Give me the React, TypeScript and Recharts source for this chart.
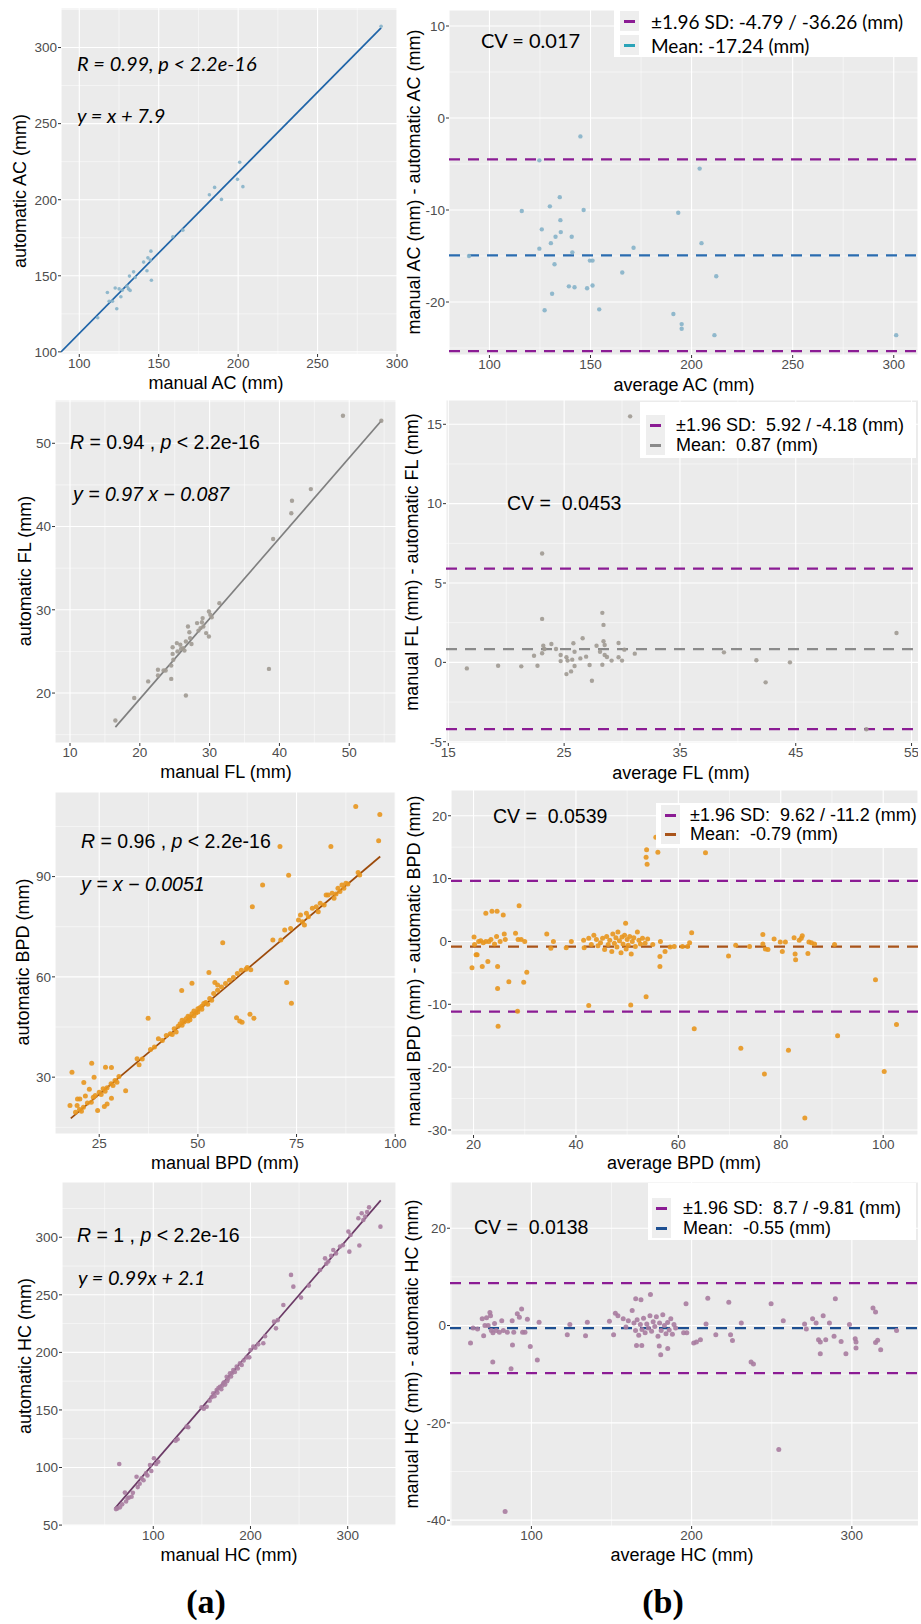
import React from "react";
import {
  ComposedChart,
  Scatter,
  Line,
  XAxis,
  YAxis,
  CartesianGrid,
  ReferenceLine,
} from "recharts";

const ARIAL = '"Liberation Sans", Arial, sans-serif';
const CALI = 'Lato, "Open Sans", sans-serif';
const PANEL_BG = "#EBEBEB";
const LIMIT = "#8b1c94";

type Pair = [number, number];

// ---------- AC ----------
const acScatter: Pair[] = [
  [111.6, 122.4], [117.7, 139], [118.8, 133.3], [120.9, 133.3], [122.6, 142], [123.6, 128.3],
  [125.1, 141.4], [126.2, 136.2], [127.2, 140.6], [130, 143.2], [131, 141.4], [131.6, 149.8],
  [132, 140.4], [134.2, 152.6], [135.2, 148.9], [140.5, 159], [142.6, 153.3], [143.2, 161.8],
  [144.7, 160.3], [145.1, 166.2], [145.4, 147.1], [158.9, 175.7], [165.2, 180], [181.9, 203.3],
  [185.2, 208.1], [189.5, 200.2], [199.6, 213.4], [201, 224.6], [203, 208.6], [290, 314],
];
const acFit: Pair[] = [[88.5, 100], [290, 313]];
const acBA: Pair[] = [
  [89.9, -15], [116, -10.1], [124.7, -4.6], [124.7, -14.2], [125.9, -12.1], [127.3, -20.9],
  [129.9, -9.6], [130.4, -13.6], [131, -19.1], [132.2, -15.9], [132.7, -12.9], [134.8, -8.6],
  [135.1, -11.1], [135.3, -12.4], [139.3, -18.3], [140.7, -12.9], [141, -14.6], [142.1, -18.4],
  [145, -2], [146.6, -10], [148.3, -18.5], [149.7, -15.5], [151, -15.5], [151, -18.2],
  [154.3, -20.8], [165.7, -16.8], [171.3, -14.1], [191, -21.3], [193.4, -10.3], [195.1, -22.4],
  [195.1, -22.9], [204, -5.5], [204.9, -13.6], [211.3, -23.6], [212.2, -17.2], [301.2, -23.6],
];
const acLimits = [-4.49, -25.33];
const acMean = -14.93;

// ---------- FL ----------
const flScatter: Pair[] = [
  [16.5, 16.7], [19.2, 19.4], [21.2, 21.4], [22.6, 22.8], [22.6, 22.1], [23.4, 22.7], [23.7, 22.7],
  [24.5, 23.3], [24.5, 21.7], [24.7, 24.7], [24.7, 25.5], [24.8, 24], [25.3, 26], [25.4, 25],
  [25.8, 25.8], [25.9, 25.3], [26.2, 25.4], [26.4, 25.1], [26.6, 19.7], [26.6, 26.2], [26.9, 28],
  [27.1, 27.3], [27.2, 26.6], [27.4, 25.9], [28.2, 28.4], [28.4, 27.5], [28.7, 27.8], [28.9, 28.5],
  [29, 29], [29.1, 28], [29.5, 27.2], [29.9, 26.8], [29.9, 29.8], [30.1, 29.4], [30.3, 29.1],
  [31.4, 30.8], [38.5, 22.9], [39.1, 38.5], [41.7, 41.6], [41.8, 43.1], [44.5, 44.5], [49.1, 53.3],
  [54.6, 52.7],
];
const flFit: Pair[] = [[16.5, 15.9], [54.6, 52.7]];
const flBA: Pair[] = [
  [16.6, -0.38], [19.3, -0.21], [21.3, -0.25], [22.4, 0.42], [22.7, -0.21], [23.1, 6.86],
  [23.1, 2.74], [23.1, 0.57], [23.2, 1.05], [23.3, 0.84], [23.9, 1.16], [24.3, 0.84], [24.7, 0.46],
  [24.7, 0.08], [25.2, 0.32], [25.2, -0.74], [25.3, 0.11], [25.6, -0.57], [25.7, 0.17], [25.8, 1.2],
  [25.9, 0.67], [25.9, -0.23], [26.4, 0.25], [26.6, 1.52], [26.9, 0.36], [27.2, -0.17],
  [27.4, -1.16], [27.8, 1.05], [28.1, 0.67], [28.3, -0.15], [28.3, 3.12], [28.4, 2.36], [28.4, 1.33],
  [28.5, 1.09], [28.5, 0.46], [28.7, 0.34], [29.1, 0.11], [29.7, 1.22], [29.7, 0.32], [30, 0.11],
  [30.2, 0.8], [31.1, 0.55], [38.8, 0.63], [41.6, 0.13], [42.4, -1.26], [44.5, 0], [51.1, -4.21],
  [53.7, 1.85], [30.7, 15.5],
];
const flLimits = [5.9, -4.2];
const flMean = 0.84;

// ---------- BPD ----------
const bpdScatter: Pair[] = [
  [90, 111], [70.8, 99], [83.7, 99], [73, 90.4], [66.4, 87.5], [63.8, 81], [56.3, 70.2], [72.5, 58.3],
  [73.7, 52.1], [45.9, 55.9], [48.5, 58.1], [37.4, 47.6], [59.8, 47.8], [60.6, 46.8], [61.2, 46.4],
  [63.2, 48.8], [64.2, 47.6], [63.4, 62.1], [62.2, 62.3], [52.8, 61.3], [54.3, 58.3], [55, 57.6],
  [17.6, 21.5], [18.1, 31.5], [19.5, 23.5], [20.1, 23.5], [19.4, 21.5], [21.1, 28.4], [21.5, 24.4],
  [22.5, 26.4], [23.1, 34.2], [23.7, 30], [24.6, 20], [26.3, 21.2], [26.6, 33], [27, 22],
  [28.1, 23.7], [28.1, 32.9], [31.7, 25.9], [34.6, 35.5], [35.1, 33.7], [35.9, 35.4], [96.1, 108.6],
  [95.8, 100.7], [90.6, 91.2],
  [19, 19.5], [20, 20.3], [20.5, 19.8], [21, 21], [22, 22.3], [23, 22.5], [23.5, 24], [24, 24.5],
  [25, 25.5], [25.5, 24.8], [26, 26.5], [26.5, 25.8], [27, 26.8], [28, 28], [28.5, 27.5], [29, 29],
  [29.5, 28.5], [30, 30.2],
  [38, 38.3], [39, 39], [40, 41.5], [41, 41], [42, 42.5], [43, 43], [43.5, 42.8], [44, 44.5],
  [44.5, 43.5], [45, 45.2], [45.5, 46], [46, 45.5], [46, 47], [46.5, 46.5], [47, 47.5], [47.5, 46.8],
  [47.5, 48.2], [48, 48], [48, 47.2], [48.5, 49], [49, 48.3], [49, 49.8], [49.5, 49.2], [50, 50.5],
  [50, 49.5], [50.5, 50.8], [51, 51.2], [51, 50.3], [51.5, 52], [52, 52.3], [52.5, 51.8], [53, 53.5],
  [53.5, 53], [54, 55], [55, 56], [56, 57], [57, 58], [58, 59], [59, 59.8], [60, 61], [61, 62],
  [62.5, 62.8],
  [69, 71], [71, 71], [72, 74], [73.5, 74.5], [75.5, 77], [76, 78.5], [76.5, 76.5], [77, 75.5],
  [77.5, 79], [78, 78], [79, 80.5], [80, 81], [80.5, 79.5], [81, 82], [82, 81.5], [82.5, 84.5],
  [83, 84.5], [84, 85], [84.5, 83.5], [85, 84.8], [85.5, 86.5], [86, 85.5], [86.5, 87.5], [87, 86.5],
  [87.5, 88], [88, 87.8], [91, 90.5],
];
const bpdFit: Pair[] = [[17.8, 17.7], [96.2, 96]];
const bpdBA: Pair[] = [
  [19.7, -4.2], [20.1, 0.7], [20.5, -2.1], [22.4, 4.5], [23.6, 4.8], [24.6, 4.8], [25.8, 4.2],
  [28.9, 5.7], [24.7, -4], [24.7, -7.5], [24.8, -13.5], [26.9, -6.4], [28.6, -11.1], [29.8, -6.5],
  [30.4, -4.9], [21.7, -4], [22.8, -3.2], [20.7, -2.1], [53.8, 14.6], [53.7, 13.4], [53.9, 12.3],
  [55.6, 16.6], [56, 14.2], [65.3, 14.1], [53.7, -8.8], [42.5, -10.2], [50.7, -10.1], [49.7, 2.9],
  [62.6, 1.4], [63.1, -13.9], [56.4, -2.4], [56.4, -4], [69.8, -2.3], [72.2, -17], [76.8, -21.1],
  [81.5, -17.3], [84.7, -28.1], [98.5, -6.1], [91.1, -15], [100.2, -20.7], [102.6, -13.2],
  [21, 0], [21.4, 0.1], [21.9, -0.2], [22.4, 0], [23, 0], [23.4, 0.3], [24.1, -0.4], [24.5, 0.8],
  [25.2, 0], [26, 1.2], [26.2, 0.3], [28.2, 1.3], [28.7, 0.3], [29.3, 0.3], [30, 0], [20.2, -0.5],
  [34.3, 1.2], [35.1, -1.1], [35.6, 0], [38.1, -1], [39.1, 0],
  [41.5, 0.2], [41.6, -1], [42.5, 0.5], [43, -0.5], [43.5, 1], [44, 0.3], [44.3, -0.7], [44.8, -0.2],
  [45.2, 0.5], [45.6, -1.3], [46, 0.8], [46.3, -0.5], [46.6, 0.2], [47, -1.6], [47.2, 1.2],
  [47.5, -0.3], [47.8, 0.6], [48, -0.9], [48.2, 1.5], [48.5, 0.1], [48.8, -1.8], [49, 0.7],
  [49.2, -0.4], [49.5, 1], [49.8, -1.2], [50, 0.3], [50.2, -0.6], [50.5, 0.8], [50.8, -2], [51, 0],
  [51.3, 0.6], [51.6, -0.8], [52, 1.5], [52.3, 0.2], [52.6, -0.4], [53, 0.5], [53.5, -0.3], [54, 0.4],
  [55, -0.5], [56.5, 0],
  [57.4, -1.6], [58.4, -0.9], [59.2, -0.8], [60.8, -0.8], [61.8, -0.8], [62.2, -0.2], [71.2, -0.6],
  [73.9, -0.8], [76.5, 1.1], [76.5, -0.4], [77, -1.2], [77.5, -1.3], [78.7, 0.4], [79.9, -0.1],
  [80.3, -1.6], [80.9, -0.1], [82.6, 0.6], [82.9, -2.9], [82.8, -2], [83.6, 0.2], [84, 0.5],
  [84.2, 0.9], [85.5, -0.1], [85.3, -1.9], [86, -0.2], [86.6, -0.4], [90.5, -0.5],
];
const bpdLimits = [9.65, -11.16];
const bpdMean = -0.81;

// ---------- HC ----------
const hcScatter: Pair[] = [
  [61.6, 63.9], [63, 64.5], [65.7, 65.4], [65, 103], [68, 68], [70.8, 78.2], [72, 70.5], [73.6, 73.2],
  [75, 74], [77.7, 74.6], [79, 78], [82.8, 92], [84, 83], [86, 86], [88, 90.6], [90, 89], [92.5, 94.9],
  [94, 93], [96.6, 102.1], [98, 97], [100.7, 108], [103, 103], [105.1, 105], [123, 123.3],
  [125, 124.5], [134.3, 135.5], [136, 135], [149.7, 152.3], [152, 151], [154.9, 152.8], [158, 158],
  [160, 161], [161.7, 164.4], [163, 162], [165.2, 167.3], [166, 165], [167, 169], [168.6, 170.2],
  [170, 168], [171, 171], [172, 173.1], [173, 174], [174, 172], [175.5, 178.9], [176, 175],
  [177, 177], [178.9, 181.8], [180, 179], [181, 182], [182.3, 184.7], [184, 183], [185.8, 187.6],
  [187, 186], [189.2, 190.5], [191, 189], [193, 193], [196, 195.5], [198.8, 195.7], [200, 202],
  [202.9, 205], [205, 204], [208, 207], [213.2, 207.9], [215, 214], [224.2, 226.7], [226.2, 220.9],
  [228, 228], [233.8, 241.2], [241.7, 267.3], [244.1, 257.1], [252, 247.6], [260, 258],
  [271.5, 271.6], [276.7, 281.7], [278, 277], [280, 279], [283, 284], [285.2, 289], [288, 286],
  [292.1, 291.9], [295, 293], [300.7, 304.9], [301.7, 287.5], [303, 302], [311, 316.5],
  [312, 292.8], [314.4, 320.9], [316.1, 315], [318, 318], [320, 322], [322, 326], [333.7, 309.2],
];
const hcFit: Pair[] = [[60.5, 64.5], [334, 332]];
const hcBA: Pair[] = [
  [62, -3.6], [63.6, -0.5], [66.4, -0.7], [69.3, 1.4], [70.2, -2.1], [71, 0], [72, 1.6], [73, 0],
  [75.9, -7.5], [74.1, 2.7], [74.5, 2], [75, -1], [76, -1.5], [77, 0.4], [78, -1], [80, -1.4],
  [81.5, 1], [82.5, -1], [83.6, -38.2], [85, -1.4], [87.3, -8.9], [88, 1], [88.2, -4], [89, -1.4],
  [91.2, 2.4], [92.5, 1.7], [93.9, 3.4], [94.5, -1.4], [96, -1.4], [97.5, 1.3], [99.3, -4.3],
  [103.7, -7.1], [104.8, 0.7], [122.4, -1.9], [124, 0.2], [133.8, -2.1], [134.9, 0.7], [148.7, 0.9],
  [151.3, -1.9], [152.4, 2.5], [154, 2], [157.3, 1.4], [159, -0.3], [160.5, 1], [162.9, 3.1],
  [165.1, 5.5], [168.4, 5.3], [165.6, -4.1], [168.9, -4.1], [164, 0.5], [165, -1], [166, 1.2],
  [167, -2], [168, 0.2], [169, -0.8], [170, 1.5], [171, -1.5], [172, 0.3], [173, -0.5], [174, 2],
  [174.3, 6.4], [175, -1.2], [176, 0.8], [177, -0.2], [178, 1.8], [179, -2.2], [180, 0.5],
  [181, -1], [182, 2.2], [183, 0], [184, -1.7], [185, 0.6], [186, -0.9], [187, 1.4], [188, -1.8],
  [189, 0.2], [190, -0.5], [179.8, -4.2], [180.7, -6], [185.1, -4.7], [196.5, 4.5], [195, -1.5],
  [197, -1.5], [201.3, -3.6], [203, -3.4], [205.5, -2.9], [209, 0.3], [210.1, 5.6], [215.1, -1.9],
  [223.2, 4.8], [224.3, -1.9], [225.5, -3.1], [231, 0.5], [237.1, -7.5], [238.6, -7.9],
  [249.6, 4.5], [254.4, -25.5], [257.2, 1], [270.5, 0.3], [271.6, -0.7], [275.5, 1.4],
  [277.7, 0.5], [279.2, -2.9], [280.3, -3.4], [280.3, -5.8], [282.1, 2], [283.7, -2.9], [286, 0.5],
  [289.7, 5.5], [288.9, -2.2], [293.3, -3.3], [296.3, -5.8], [298.5, 0.2], [302.1, -2.7],
  [302.6, -3.4], [302.6, -4.6], [313.2, 3.6], [314.8, 2.8], [314.8, -3.5], [316.1, -3], [318, -5],
  [327.9, -1],
];
const hcLimits = [8.7, -9.8];
const hcMean = -0.55;

const toPts = (arr: Pair[]) => arr.map(([x, y]) => ({ x, y }));

interface PanelProps {
  left: number;
  top: number;
  right: number;
  bottom: number;
  xDomain: [number, number];
  yDomain: [number, number];
  xTicks: number[];
  yTicks: number[];
  xMinor: number[];
  yMinor: number[];
  points: Pair[];
  color: string;
  r: number;
  fit?: Pair[];
  fitColor?: string;
  limits?: number[];
  mean?: number;
  meanColor?: string;
  padRight?: number;
}

const YW = 44;
const XH = 24;
const tickStyle = { fontSize: 13.5, fill: "#4d4d4d", fontFamily: ARIAL };

function Panel(p: PanelProps) {
  const pad = p.padRight ?? 0;
  const w = p.right - p.left + YW + pad;
  const h = p.bottom - p.top + XH;
  return (
    <div style={{ position: "absolute", left: p.left - YW, top: p.top }}>
      <ComposedChart width={w} height={h} margin={{ top: 0, right: pad, bottom: 0, left: 0 }}>
        <CartesianGrid
          fill={PANEL_BG}
          stroke="#fff"
          strokeWidth={0.5}
          horizontalValues={p.yMinor}
          verticalValues={p.xMinor}
        />
        <CartesianGrid stroke="#fff" strokeWidth={1.1} />
        <XAxis
          type="number"
          dataKey="x"
          domain={p.xDomain}
          ticks={p.xTicks}
          allowDataOverflow
          interval={0}
          tickSize={3}
          tickMargin={1}
          axisLine={false}
          tickLine={{ stroke: "#333" }}
          tick={tickStyle}
          height={XH}
        />
        <YAxis
          type="number"
          dataKey="y"
          domain={p.yDomain}
          ticks={p.yTicks}
          allowDataOverflow
          interval={0}
          tickSize={3}
          tickMargin={1}
          axisLine={false}
          tickLine={{ stroke: "#333" }}
          tick={tickStyle}
          width={YW}
        />
        <Scatter
          data={toPts(p.points)}
          fill={p.color}
          isAnimationActive={false}
          shape={(s: any) => <circle cx={s.cx} cy={s.cy} r={p.r} fill={p.color} fillOpacity={0.9} />}
        />
        {p.fit && (
          <Line
            data={toPts(p.fit)}
            dataKey="y"
            stroke={p.fitColor}
            strokeWidth={1.7}
            dot={false}
            activeDot={false}
            isAnimationActive={false}
          />
        )}
        {p.limits &&
          p.limits.map((v) => (
            <ReferenceLine key={v} y={v} stroke={LIMIT} strokeWidth={2.2} strokeDasharray="11 8" />
          ))}
        {p.mean !== undefined && (
          <ReferenceLine y={p.mean} stroke={p.meanColor} strokeWidth={2.2} strokeDasharray="11 8" />
        )}
      </ComposedChart>
    </div>
  );
}

interface TextProps {
  x: number;
  y: number;
  size: number;
  font: string;
  anchor?: "start" | "middle";
  rotate?: boolean;
  italic?: boolean;
  bold?: boolean;
  children: React.ReactNode;
}

function Txt({ x, y, size, font, anchor = "start", rotate, italic, bold, children }: TextProps) {
  let transform = anchor === "middle" ? "translate(-50%, -50%)" : "translate(0, -50%)";
  if (rotate) transform = "translate(-50%, -50%) rotate(-90deg)";
  return (
    <div
      style={{
        position: "absolute",
        left: x,
        top: y,
        transform,
        whiteSpace: "pre",
        fontSize: size,
        fontFamily: font,
        fontStyle: italic ? "italic" : "normal",
        fontWeight: bold ? 700 : 400,
        lineHeight: 1,
        color: "#000",
      }}
    >
      {children}
    </div>
  );
}

interface LegendProps {
  left: number;
  top: number;
  width: number;
  height: number;
  keyLeft: number;
  textLeft: number;
  rows: { y: number; color: string; label: string }[];
  font: string;
  size: number;
}

function BaLegend(l: LegendProps) {
  return (
    <>
      <div
        style={{
          position: "absolute",
          left: l.left,
          top: l.top,
          width: l.width,
          height: l.height,
          background: "#fff",
        }}
      />
      {l.rows.map((row) => (
        <React.Fragment key={row.label}>
          <div
            style={{
              position: "absolute",
              left: l.keyLeft,
              top: row.y - 10,
              width: 19,
              height: 20,
              background: "#EEEEEE",
            }}
          >
            <div
              style={{
                position: "absolute",
                left: 4,
                top: 8.5,
                width: 11,
                height: 3,
                background: row.color,
              }}
            />
          </div>
          <Txt x={l.textLeft} y={row.y} size={l.size} font={l.font}>
            {row.label}
          </Txt>
        </React.Fragment>
      ))}
    </>
  );
}

const SERIF = '"Liberation Serif", "Times New Roman", serif';

export default function App() {
  return (
    <div style={{ position: "relative", width: 921, height: 1624, background: "#fff", overflow: "hidden" }}>
      <style>{`body{margin:0;}`}</style>

      {/* Row 1: AC */}
      <Panel
        left={61} top={8} right={397} bottom={354} padRight={14}
        xDomain={[88.5, 300]} yDomain={[98.6, 326]}
        xTicks={[100, 150, 200, 250, 300]} yTicks={[100, 150, 200, 250, 300]}
        xMinor={[125, 175, 225, 275]} yMinor={[125, 175, 225, 275, 325]}
        points={acScatter} color="#86b3c9" r={1.8}
        fit={acFit} fitColor="#1f64a8"
      />
      <Panel
        left={449} top={10} right={918} bottom={355}
        xDomain={[80, 312]} yDomain={[-25.76, 11.74]}
        xTicks={[100, 150, 200, 250, 300]} yTicks={[-20, -10, 0, 10]}
        xMinor={[125, 175, 225, 275]} yMinor={[-25, -15, -5, 5]}
        points={acBA} color="#86b3c9" r={2.2}
        limits={acLimits} mean={acMean} meanColor="#2a6cb0"
      />

      {/* Row 2: FL */}
      <Panel
        left={55} top={400} right={396} bottom={743}
        xDomain={[7.85, 56.7]} yDomain={[14, 55.2]}
        xTicks={[10, 20, 30, 40, 50]} yTicks={[20, 30, 40, 50]}
        xMinor={[15, 25, 35, 45, 55]} yMinor={[15, 25, 35, 45, 55]}
        points={flScatter} color="#a09a92" r={2.2}
        fit={flFit} fitColor="#7f7f7f"
      />
      <Panel
        left={445.5} top={400} right={918} bottom={743}
        xDomain={[14.8, 55.6]} yDomain={[-5.08, 16.53]}
        xTicks={[15, 25, 35, 45, 55]} yTicks={[-5, 0, 5, 10, 15]}
        xMinor={[20, 30, 40, 50]} yMinor={[-2.5, 2.5, 7.5, 12.5]}
        points={flBA} color="#a09a92" r={2.2}
        limits={flLimits} mean={flMean} meanColor="#8a8a8a"
      />

      {/* Row 3: BPD */}
      <Panel
        left={55} top={792} right={396} bottom={1134} padRight={14}
        xDomain={[13.8, 100.2]} yDomain={[13, 115.3]}
        xTicks={[25, 50, 75, 100]} yTicks={[30, 60, 90]}
        xMinor={[37.5, 62.5, 87.5]} yMinor={[15, 45, 75, 105]}
        points={bpdScatter} color="#e8961e" r={2.5}
        fit={bpdFit} fitColor="#9c4a0a"
      />
      <Panel
        left={451} top={790} right={918} bottom={1135}
        xDomain={[15.6, 106.8]} yDomain={[-30.8, 24.1]}
        xTicks={[20, 40, 60, 80, 100]} yTicks={[-30, -20, -10, 0, 10, 20]}
        xMinor={[30, 50, 70, 90]} yMinor={[-25, -15, -5, 5, 15]}
        points={bpdBA} color="#e8961e" r={2.5}
        limits={bpdLimits} mean={bpdMean} meanColor="#a9541a"
      />

      {/* Row 4: HC */}
      <Panel
        left={62} top={1182} right={396} bottom={1526}
        xDomain={[6.1, 349.7]} yDomain={[49.2, 348]}
        xTicks={[100, 200, 300]} yTicks={[50, 100, 150, 200, 250, 300]}
        xMinor={[50, 150, 250]} yMinor={[75, 125, 175, 225, 275, 325]}
        points={hcScatter} color="#a87ca0" r={2.3}
        fit={hcFit} fitColor="#6b3a66"
      />
      <Panel
        left={449.5} top={1182} right={918} bottom={1526}
        xDomain={[49.2, 341.6]} yDomain={[-41.2, 29.5]}
        xTicks={[100, 200, 300]} yTicks={[-40, -20, 0, 20]}
        xMinor={[50, 150, 250]} yMinor={[-30, -10, 10]}
        points={hcBA} color="#a87ca0" r={2.5}
        limits={hcLimits} mean={hcMean} meanColor="#1d4f91"
      />

      {/* axis titles */}
      <Txt x={20} y={191} size={18} font={ARIAL} rotate>automatic AC (mm)</Txt>
      <Txt x={216} y={383} size={18} font={ARIAL} anchor="middle">manual AC (mm)</Txt>
      <Txt x={414} y={182} size={18} font={ARIAL} rotate>manual AC (mm) - automatic AC (mm)</Txt>
      <Txt x={684} y={385} size={18} font={ARIAL} anchor="middle">average AC (mm)</Txt>

      <Txt x={25} y={571} size={18} font={ARIAL} rotate>automatic FL (mm)</Txt>
      <Txt x={226} y={772} size={18} font={ARIAL} anchor="middle">manual FL (mm)</Txt>
      <Txt x={412} y={562} size={18} font={ARIAL} rotate>manual FL (mm) - automatic FL (mm)</Txt>
      <Txt x={681} y={773} size={18} font={ARIAL} anchor="middle">average FL (mm)</Txt>

      <Txt x={23} y={962} size={18} font={ARIAL} rotate>automatic BPD (mm)</Txt>
      <Txt x={225} y={1163} size={18} font={ARIAL} anchor="middle">manual BPD (mm)</Txt>
      <Txt x={414} y={961} size={18} font={ARIAL} rotate>manual BPD (mm) - automatic BPD (mm)</Txt>
      <Txt x={684} y={1163} size={18} font={ARIAL} anchor="middle">average BPD (mm)</Txt>

      <Txt x={25} y={1356} size={18} font={ARIAL} rotate>automatic HC (mm)</Txt>
      <Txt x={229} y={1555} size={18} font={ARIAL} anchor="middle">manual HC (mm)</Txt>
      <Txt x={412} y={1354} size={18} font={ARIAL} rotate>manual HC (mm) - automatic HC (mm)</Txt>
      <Txt x={682} y={1555} size={18} font={ARIAL} anchor="middle">average HC (mm)</Txt>

      {/* correlation annotations */}
      <Txt x={77} y={63} size={20} font={CALI} italic>R = 0.99, p &lt; 2.2e-16</Txt>
      <Txt x={77} y={115} size={20} font={CALI} italic>y = x + 7.9</Txt>

      <Txt x={70} y={443} size={19.5} font={ARIAL}>
        <i>R</i> = 0.94 , <i>p</i> &lt; 2.2e-16
      </Txt>
      <Txt x={73} y={495} size={19.5} font={ARIAL} italic>y = 0.97 x − 0.087</Txt>

      <Txt x={81} y={842} size={19.5} font={ARIAL}>
        <i>R</i> = 0.96 , <i>p</i> &lt; 2.2e-16
      </Txt>
      <Txt x={81} y={885} size={19.5} font={ARIAL} italic>y = x − 0.0051</Txt>

      <Txt x={77} y={1236} size={19.5} font={ARIAL}>
        <i>R</i> = 1 , <i>p</i> &lt; 2.2e-16
      </Txt>
      <Txt x={78} y={1277} size={20} font={CALI} italic>y = 0.99x + 2.1</Txt>

      {/* Bland-Altman legends and CV */}
      <BaLegend
        left={614} top={10} width={304} height={47} keyLeft={620} textLeft={651}
        font={CALI} size={19}
        rows={[
          { y: 21, color: LIMIT, label: "±1.96 SD: -4.79 / -36.26 (mm)" },
          { y: 45, color: "#2aa3b8", label: "Mean: -17.24 (mm)" },
        ]}
      />
      <Txt x={481} y={40} size={20} font={CALI}>CV = 0.017</Txt>

      <BaLegend
        left={640} top={402} width={276} height={56} keyLeft={646} textLeft={676}
        font={ARIAL} size={18}
        rows={[
          { y: 425, color: LIMIT, label: "±1.96 SD:  5.92 / -4.18 (mm)" },
          { y: 445, color: "#8a8a8a", label: "Mean:  0.87 (mm)" },
        ]}
      />
      <Txt x={507} y={504} size={19.5} font={ARIAL}>CV =  0.0453</Txt>

      <BaLegend
        left={656} top={803} width={262} height={45} keyLeft={661} textLeft={690}
        font={ARIAL} size={18}
        rows={[
          { y: 815, color: LIMIT, label: "±1.96 SD:  9.62 / -11.2 (mm)" },
          { y: 834, color: "#a9541a", label: "Mean:  -0.79 (mm)" },
        ]}
      />
      <Txt x={493} y={817} size={19.5} font={ARIAL}>CV =  0.0539</Txt>

      <BaLegend
        left={648} top={1183} width={268} height={57} keyLeft={652} textLeft={683}
        font={ARIAL} size={18}
        rows={[
          { y: 1208, color: LIMIT, label: "±1.96 SD:  8.7 / -9.81 (mm)" },
          { y: 1228, color: "#1d4f91", label: "Mean:  -0.55 (mm)" },
        ]}
      />
      <Txt x={474} y={1228} size={19.5} font={ARIAL}>CV =  0.0138</Txt>

      {/* panel group labels */}
      <Txt x={206} y={1602} size={34} font={SERIF} anchor="middle" bold>(a)</Txt>
      <Txt x={663} y={1602} size={34} font={SERIF} anchor="middle" bold>(b)</Txt>
    </div>
  );
}
